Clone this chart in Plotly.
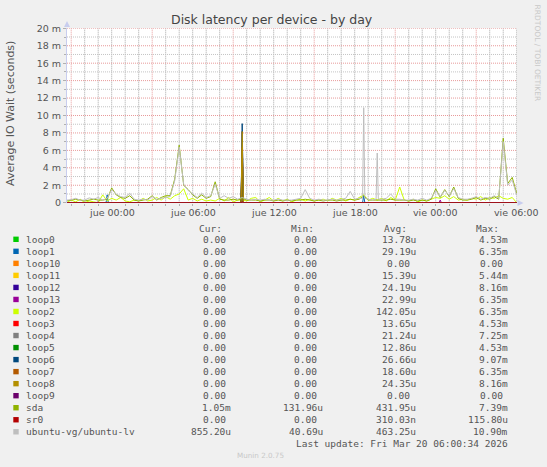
import plotly.graph_objects as go

# one sample every 20 minutes, hours counted from "jue 00:00"
start_h = -10 / 3
step_h = 1 / 3

# values in milliseconds
sda = [0.2, 0.3, 0.4, 0.3, 0.2, 0.3, 0.4, 0.3,
       0.3, 0.4, 1.7, 0.9, 0.6, 0.5, 0.8, 0.3,
       0.2, 0.3, 0.4, 0.8, 0.3, 0.6, 0.8, 0.8,
       2.7, 6.6, 2.0, 1.5, 0.9, 0.5, 0.9, 0.5,
       0.7, 2.4, 0.4, 0.3, 0.3, 0.4, 0.3, 0.5,
       0.3, 0.3, 0.3, 0.2, 0.3, 0.3, 0.2, 0.3,
       0.2, 0.3, 0.2, 0.3, 0.3, 0.4, 0.3, 0.2,
       0.3, 0.2, 0.3, 0.3, 0.2, 0.3, 0.3, 0.4,
       0.3, 0.4, 0.8, 0.3, 0.3, 0.3, 0.3, 0.3,
       0.4, 0.3, 0.3, 0.3, 0.2, 0.3, 0.2, 0.3,
       0.2, 0.4, 1.6, 0.6, 1.5, 0.7, 1.8, 0.5,
       0.3, 0.3, 0.4, 0.6, 0.3, 0.5, 0.4, 0.7,
       0.4, 7.39, 2.2, 2.9, 1.05]

ubuntu_lv = [0.3, 0.35, 0.5, 0.3, 0.3, 0.55, 0.4, 0.6,
             0.3, 0.5, 1.5, 1.0, 0.7, 0.6, 1.1, 0.4,
             0.3, 0.4, 0.3, 0.7, 0.4, 0.5, 0.6, 0.7,
             2.5, 6.4, 2.1, 1.4, 1.0, 0.6, 1.1, 0.6,
             0.8, 2.1, 0.5, 0.8, 0.5, 0.7, 0.4, 0.6,
             0.4, 0.3, 0.4, 0.3, 0.4, 0.3, 0.3, 0.4,
             0.3, 0.3, 0.3, 0.4, 0.5, 1.5, 0.5, 0.3,
             0.4, 0.3, 0.3, 0.4, 0.3, 0.4, 0.5, 1.3,
             0.4, 0.5, 0.5, 0.4, 0.3, 0.4, 0.4, 0.5,
             1.0, 0.4, 0.4, 0.3, 0.3, 0.4, 0.3, 0.5,
             0.3, 0.5, 1.4, 0.7, 1.4, 0.8, 1.6, 0.6,
             0.4, 0.4, 0.5, 0.7, 0.4, 0.6, 0.5, 0.8,
             0.5, 7.0, 2.0, 2.6, 0.86]

loop2 = [0.0, 0.3, 0.1, 0.4, 0.0, 0.2, 0.1, 0.0,
         0.9, 0.2, 0.5, 0.3, 0.6, 0.2, 0.1, 0.3,
         0.2, 0.5, 0.2, 0.3, 0.6, 0.3, 0.7, 0.4,
         0.8, 1.0, 1.6, 0.3, 0.5, 0.2, 0.4, 0.2,
         0.3, 0.2, 0.5, 0.2, 0.6, 0.1, 0.3, 0.3,
         0.2, 0.5, 0.6, 0.1, 0.3, 0.6, 0.2, 0.5,
         0.2, 0.4, 0.1, 0.3, 0.4, 0.2, 0.4, 0.2,
         0.3, 0.4, 0.2, 0.5, 0.3, 0.5, 0.2, 0.4,
         0.3, 0.6, 0.9, 0.3, 0.5, 0.3, 0.5, 0.2,
         0.6, 0.3, 1.8, 0.3, 0.2, 0.4, 0.1, 0.3,
         0.2, 0.4, 0.6, 0.5, 0.8, 0.4, 0.7, 0.3,
         0.4, 0.3, 0.5, 0.4, 0.7, 0.3, 0.6, 0.5,
         0.8, 0.5, 0.4, 0.6, 0.0]

# single-sample peaks on top of the series above (sample index: ms);
# the loop devices are otherwise flat at zero
spikes = {
    "loop0": {39: 4.53},
    "loop1": {9: 0.9, 39: 6.35, 66: 0.8},
    "loop11": {39: 5.44},
    "loop12": {39: 8.16},
    "loop13": {7: 0.15, 39: 6.35, 83: 0.3},
    "loop2": {39: 6.35},
    "loop3": {39: 4.53},
    "loop4": {39: 7.25},
    "loop5": {39: 4.53},
    "loop6": {39: 9.07},
    "loop7": {39: 6.35},
    "loop8": {39: 8.16},
    "sr0": {39: 0.116},
    "ubuntu-vg/ubuntu-lv": {66: 10.9, 69: 5.7},
}

names = ["loop0", "loop1", "loop10", "loop11", "loop12", "loop13", "loop2", "loop3",
         "loop4", "loop5", "loop6", "loop7", "loop8", "loop9", "sda", "sr0",
         "ubuntu-vg/ubuntu-lv"]
colors = ["#00cc00", "#0066b3", "#ff8000", "#ffcc00", "#330099", "#990099", "#ccff00",
          "#ff0000", "#808080", "#008f00", "#00487d", "#b35a00", "#b38f00", "#6b006b",
          "#8fb300", "#b30000", "#bebebe"]
cur_vals = ["0.00", "0.00", "0.00", "0.00", "0.00", "0.00", "0.00", "0.00", "0.00",
            "0.00", "0.00", "0.00", "0.00", "0.00", "1.05m", "0.00", "855.20u"]
min_vals = ["0.00", "0.00", "0.00", "0.00", "0.00", "0.00", "0.00", "0.00", "0.00",
            "0.00", "0.00", "0.00", "0.00", "0.00", "131.96u", "0.00", "40.69u"]
avg_vals = ["13.78u", "29.19u", "0.00", "15.39u", "24.19u", "22.99u", "142.05u", "13.65u",
            "21.24u", "12.86u", "26.66u", "18.60u", "24.35u", "0.00", "431.95u", "310.03n",
            "463.25u"]
max_vals = ["4.53m", "6.35m", "0.00", "5.44m", "8.16m", "6.35m", "6.35m", "4.53m", "7.25m",
            "4.53m", "9.07m", "6.35m", "8.16m", "0.00", "7.39m", "115.80u", "10.90m"]

x_tick_hours = [0, 6, 12, 18, 24, 30]
x_tick_text = ["jue 00:00", "jue 06:00", "jue 12:00", "jue 18:00", "vie 00:00", "vie 06:00"]
y_tick_vals = list(range(0, 21, 2))
y_tick_text = ["0"] + [f"{v} m" for v in range(2, 21, 2)]

# grid: red every 6 h (03, 09, 15, 21) and every 2 ms, grey every hour and every 1 ms
grid_hours_major = [-3, 3, 9, 15, 21, 27]
grid_hours_minor = [h for h in range(-3, 31) if h not in grid_hours_major]
grid_ms_major = list(range(2, 21, 2))
grid_ms_minor = list(range(1, 20, 2))

W, H = 547, 467


def px(x):
    return x / W


def py(y):
    return 1 - y / H


hours = [start_h + i * step_h for i in range(len(sda))]
base = {"loop2": loop2, "sda": sda, "ubuntu-vg/ubuntu-lv": ubuntu_lv}
half = 1 / 12  # a peak lasts one 5 minute step each side


def build(values, peaks):
    xs, ys = [], []
    for i, (h, v) in enumerate(zip(hours, values)):
        if i in peaks:
            xs += [h - half, h, h + half]
            ys += [v, peaks[i], v]
        else:
            xs.append(h)
            ys.append(v)
    return xs, ys


fig = go.Figure()
for name, color in zip(names, colors):
    xs, ys = build(base.get(name, [0.0] * len(hours)), spikes.get(name, {}))
    fig.add_trace(go.Scatter(x=xs, y=ys, mode="lines", name=name,
                             line=dict(color=color, width=1), hoverinfo="skip"))

sans = "DejaVu Sans"
mono = "DejaVu Sans Mono"
txt = "#555555"
grid_minor = "#c4c4c4"
grid_minor_v = "#a6a6a6"  # vertical lines fall between pixels, so they come out lighter
grid_major = "#e89a9a"
dots = "1px,1px"

for h in grid_hours_minor:
    fig.add_vline(x=h, line=dict(color=grid_minor_v, width=1, dash=dots), layer="below")
for h in grid_hours_major:
    fig.add_vline(x=h, line=dict(color=grid_major, width=1, dash=dots), layer="below")
for v in grid_ms_minor:
    fig.add_hline(y=v, line=dict(color=grid_minor, width=1, dash=dots), layer="below")
for v in grid_ms_major:
    fig.add_hline(y=v, line=dict(color=grid_major, width=1, dash=dots), layer="below")

fig.update_layout(
    width=W, height=H, margin=dict(l=0, r=0, t=0, b=0),
    paper_bgcolor="#f0f0f0", plot_bgcolor="#ffffff", showlegend=False,
    font=dict(family=sans, size=9.5, color=txt),
    xaxis=dict(domain=[px(67), px(517)], range=[-3.31, 30.02], anchor="y",
               showticklabels=False, showgrid=False, zeroline=False, ticks="",
               minor=dict(tickmode="linear", tick0=0, dtick=1, showgrid=False,
                          ticks="outside", ticklen=2, tickcolor="#b0b0b0"),
               layer="below traces", automargin=False),
    yaxis=dict(domain=[py(202.7), py(28.3)], range=[0, 20],
               tickvals=y_tick_vals, ticktext=y_tick_text, showgrid=False,
               minor=dict(tickmode="linear", tick0=0, dtick=1, showgrid=False,
                          ticks="outside", ticklen=2, tickcolor="#b0b0b0"),
               ticks="outside", ticklen=3, tickcolor="#b0b0b0", zeroline=False,
               showline=True, linecolor="#c8cdee", linewidth=1,
               layer="below traces", automargin=False),
)

# axis arrows
arrow = "#c8cdee"
fig.add_shape(type="path", xref="paper", yref="paper", fillcolor=arrow, line_width=0,
              path=f"M {px(64)},{py(27)} L {px(70)},{py(27)} L {px(67)},{py(21)} Z")
fig.add_shape(type="path", xref="paper", yref="paper", fillcolor=arrow, line_width=0,
              path=f"M {px(517.5)},{py(200)} L {px(517.5)},{py(206)} L {px(523.5)},{py(203)} Z")


def note(x, y, text, anchor="left", size=9.5, family=mono, color=txt, angle=0, xref="paper"):
    fig.add_annotation(x=x if xref == "x" else px(x), y=py(y), xref=xref, yref="paper",
                       text=text, showarrow=False, xanchor=anchor, yanchor="middle",
                       borderpad=0, textangle=angle,
                       font=dict(family=family, size=size, color=color))


for h, label in zip(x_tick_hours, x_tick_text):
    note(h, 212.3, label, "center", 9.5, sans, xref="x")

note(272, 19.3, "Disk latency per device - by day", "center", 12.5, sans, "#444444")
note(10, 114, "Average IO Wait (seconds)", "center", 11, sans, angle=-90)
note(537.7, 53.3, "RRDTOOL / TOBI OETIKER", "center", 7.5, sans, "#c8c8c8", angle=90)

for label, x in zip(["Cur:", "Min:", "Avg:", "Max:"], [197.7, 290, 382.7, 475]):
    note(x, 228.3, label)

col_right = [232.3, 324.2, 416.7, 509.3]
char_w = 5.72
for r, name in enumerate(names):
    y = 239.3 + 12.03 * r
    fig.add_shape(type="rect", xref="paper", yref="paper", fillcolor=colors[r], line_width=0,
                  x0=px(13.3), x1=px(18.7), y0=py(y - 2.7), y1=py(y + 2.7))
    note(25, y, name)
    for col, vals in enumerate([cur_vals, min_vals, avg_vals, max_vals]):
        v = vals[r]
        right = col_right[col] - (0 if v[-1].isalpha() else char_w)
        note(right, y, v, "right")

note(509.3, 443.3, "Last update: Fri Mar 20 06:00:34 2026", "right")
note(260.5, 455.7, "Munin 2.0.75", "center", 7.2, sans, "#c8c8c8")

# the page's default body margin would push the 547x467 figure off the window
fig.write_html("out.html", config={"displayModeBar": False},
               post_script="document.body.style.margin = '0';")
